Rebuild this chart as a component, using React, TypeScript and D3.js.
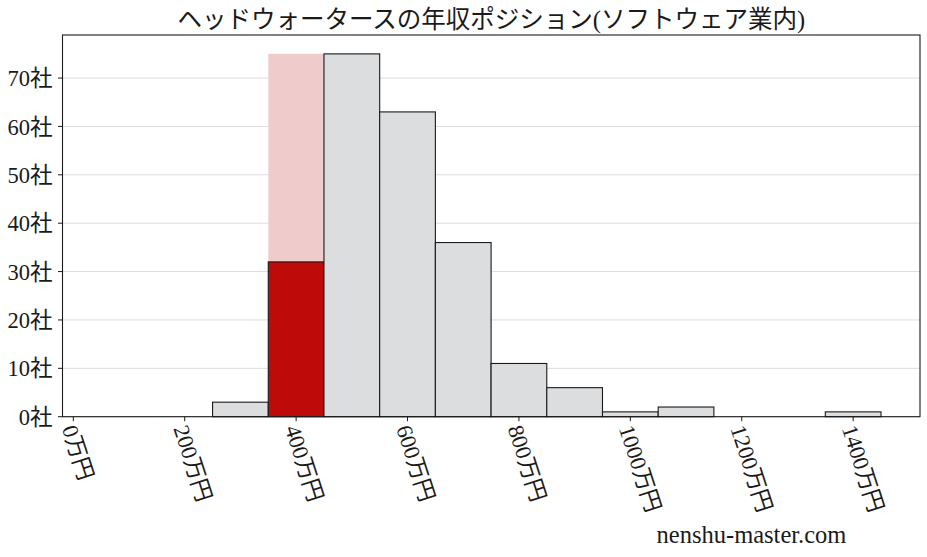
import React from "react";
import * as d3 from "d3";

const binStarts = [250, 350, 450, 550, 650, 750, 850, 950, 1050, 1150, 1250, 1350];
const binCounts = [3, 32, 75, 63, 36, 11, 6, 1, 2, 0, 0, 1];
const highlightIndex = 1;
const highlightFullCount = 75;
const xTicks = [0, 200, 400, 600, 800, 1000, 1200, 1400];
const yTicks = [0, 10, 20, 30, 40, 50, 60, 70];
const title = "ヘッドウォータースの年収ポジション(ソフトウェア業内)";
const watermark = "nenshu-master.com";

const W = 927;
const H = 557;
const FONT = "'Liberation Serif', 'DejaVu Serif', 'Noto Sans CJK JP', serif";

export default function App() {
  const left = 62.5, right = 920, top = 35, bottom = 416.7;
  const x = d3.scaleLinear().domain([-19.4, 1520]).range([left, right]);
  const y = d3.scaleLinear().domain([0, 78.9]).range([bottom, top]);
  const binW = 100;

  return (
    <svg width={W} height={H} style={{ position: "absolute", left: 0, top: 0, background: "#fff" }}>
      <rect x={0} y={0} width={W} height={H} fill="#fff" />
      {yTicks.map((t) => (
        <line key={"g" + t} x1={left} x2={right} y1={y(t)} y2={y(t)} stroke="#dcdcdc" strokeWidth={1} />
      ))}
      <rect
        x={x(binStarts[highlightIndex])}
        y={y(highlightFullCount)}
        width={x(binStarts[highlightIndex] + binW) - x(binStarts[highlightIndex])}
        height={y(0) - y(highlightFullCount)}
        fill="#f0cbcb"
      />
      {binStarts.map((s, i) =>
        binCounts[i] > 0 ? (
          <rect
            key={"b" + s}
            x={x(s)}
            y={y(binCounts[i])}
            width={x(s + binW) - x(s)}
            height={y(0) - y(binCounts[i])}
            fill={i === highlightIndex ? "#bf0a0a" : "#dcdddf"}
            stroke="#1a1a1a"
            strokeWidth={1.1}
          />
        ) : null
      )}
      <rect x={left} y={top} width={right - left} height={bottom - top} fill="none" stroke="#1a1a1a" strokeWidth={1.1} />
      {yTicks.map((t) => (
        <g key={"y" + t}>
          <line x1={left - 4.5} x2={left} y1={y(t)} y2={y(t)} stroke="#1a1a1a" strokeWidth={1} />
          <text x={left - 10} y={y(t)} dy="0.36em" textAnchor="end" fontFamily={FONT} fontSize={22.5} fill="#1a1a1a">
            {t}社
          </text>
        </g>
      ))}
      {xTicks.map((t) => (
        <g key={"x" + t}>
          <line x1={x(t)} x2={x(t)} y1={bottom} y2={bottom + 4.5} stroke="#1a1a1a" strokeWidth={1} />
          <text
            transform={`translate(${x(t) - 4},${bottom + 9}) rotate(72)`}
            dy="0.35em"
            textAnchor="start"
            fontFamily={FONT}
            fontSize={22.5}
            fill="#1a1a1a"
          >
            {t}万円
          </text>
        </g>
      ))}
      <text x={(left + right) / 2} y={28} textAnchor="middle" fontFamily={FONT} fontSize={24.5} fill="#1a1a1a">
        {title}
      </text>
      <text x={751.5} y={543} textAnchor="middle" fontFamily={FONT} fontSize={24.5} fill="#1a1a1a">
        {watermark}
      </text>
    </svg>
  );
}
